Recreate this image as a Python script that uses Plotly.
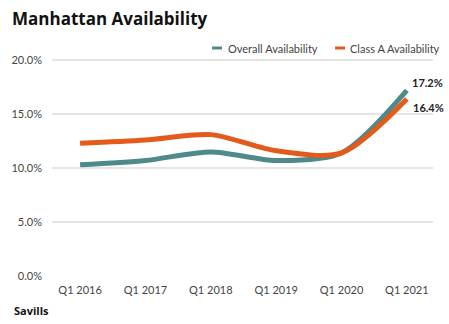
import plotly.graph_objects as go

quarters = ["Q1 2016", "Q1 2017", "Q1 2018", "Q1 2019", "Q1 2020", "Q1 2021"]
overall = [10.3, 10.7, 11.5, 10.7, 11.4, 17.2]
class_a = [12.3, 12.6, 13.1, 11.6, 11.4, 16.4]
y_ticks = [0, 5, 10, 15, 20]
series_names = ["Overall Availability", "Class A Availability"]

teal = "#4F8A8B"
orange = "#E35A1A"
font = "Lato"
W, H = 449, 324
ML, MR, MT, MB = 52, 16, 58, 48

fig = go.Figure()
fig.add_trace(go.Scatter(
    x=list(range(len(quarters))), y=overall, name=series_names[0],
    mode="lines", line=dict(color=teal, width=5, shape="spline", smoothing=0.8),
))
fig.add_trace(go.Scatter(
    x=list(range(len(quarters))), y=class_a, name=series_names[1],
    mode="lines", line=dict(color=orange, width=5, shape="spline", smoothing=0.8),
))

# end-point value labels
last = len(quarters) - 1
fig.add_annotation(x=last, y=overall[-1], text=f"<b>{overall[-1]:.1f}%</b>",
                   showarrow=False, xanchor="left", yanchor="middle",
                   xshift=3, yshift=8, font=dict(family=font, size=11, color="#222"))
fig.add_annotation(x=last, y=class_a[-1], text=f"<b>{class_a[-1]:.1f}%</b>",
                   showarrow=False, xanchor="left", yanchor="middle",
                   xshift=4, yshift=-8, font=dict(family=font, size=11, color="#222"))

# compact legend with short line swatches, drawn in pixel-based paper coords
pw, ph = W - ML - MR, H - MT - MB
def px(x):
    return (x - ML) / pw
def py(y):
    return (H - MB - y) / ph

legend_y = 48
for (x0, x1, tx), name, col in zip([(212, 222, 226), (335, 345, 348)], series_names, [teal, orange]):
    fig.add_shape(type="line", xref="paper", yref="paper",
                  x0=px(x0), x1=px(x1), y0=py(legend_y), y1=py(legend_y),
                  line=dict(color=col, width=3))
    fig.add_annotation(xref="paper", yref="paper", x=px(tx), y=py(legend_y),
                       xanchor="left", yanchor="middle", text=name, showarrow=False,
                       font=dict(family=font, size=11, color="#444"))

fig.add_annotation(xref="paper", yref="paper", x=px(12), y=py(310), xanchor="left",
                   yanchor="middle", text="<b>Savills</b>", showarrow=False,
                   font=dict(family="Open Sans", size=11, color="#111"))

fig.update_layout(
    width=W, height=H,
    margin=dict(l=ML, r=MR, t=MT, b=MB),
    paper_bgcolor="white", plot_bgcolor="white",
    title=dict(text="<b>Manhattan Availability</b>", x=12 / W, xanchor="left",
               y=1 - 19 / H, yanchor="middle",
               font=dict(family="Open Sans", size=17, color="#111")),
    showlegend=False,
    xaxis=dict(tickmode="array", tickvals=list(range(len(quarters))), ticktext=quarters,
               range=[-0.43, 5.4], showgrid=False, zeroline=False, showline=False,
               ticklabelstandoff=6,
               tickfont=dict(family=font, size=11, color="#444")),
    yaxis=dict(range=[0, 20.2], tickvals=y_ticks,
               ticktext=[f"{v:.1f}%" for v in y_ticks],
               gridcolor="#E5E5E5", gridwidth=2, zeroline=False, showline=False,
               ticks="", ticklen=0, ticklabelstandoff=9,
               tickfont=dict(family=font, size=11, color="#444")),
)

fig.write_html("out.html")
